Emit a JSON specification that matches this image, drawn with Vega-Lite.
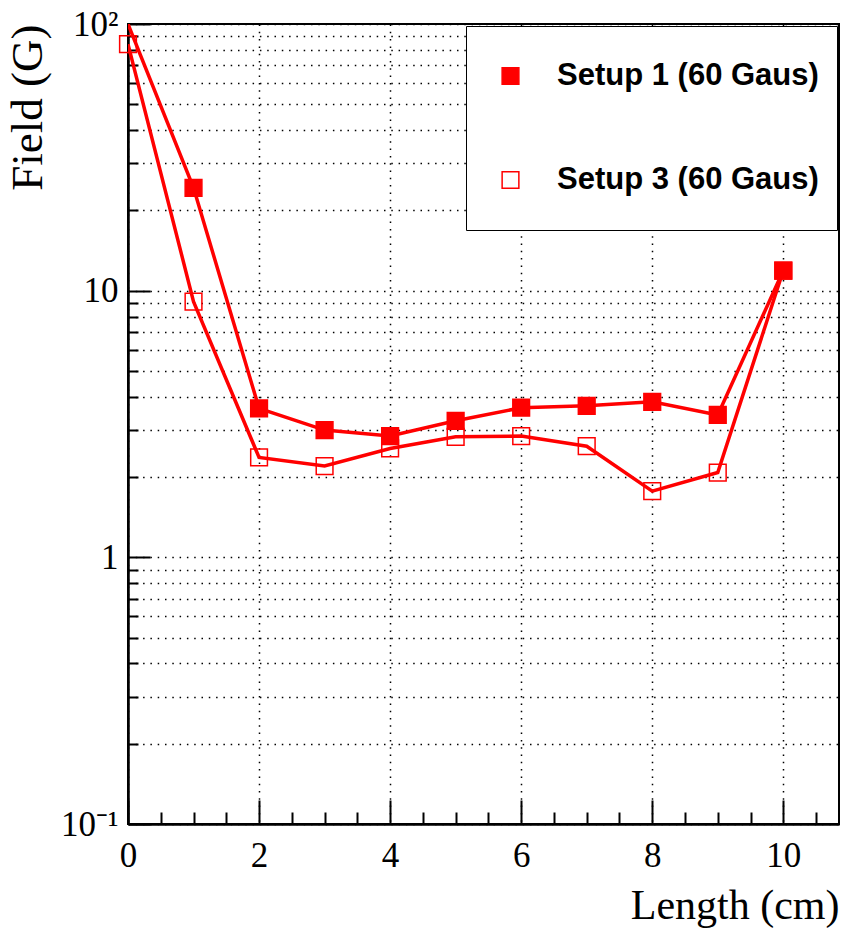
{
  "$schema": "https://vega.github.io/schema/vega-lite/v6.json",
  "width": 711,
  "height": 800,
  "autosize": {"type": "none"},
  "padding": {"left": 128, "top": 24, "right": 12, "bottom": 115},
  "background": "white",
  "config": {
    "view": {"stroke": "#000", "strokeWidth": 2},
    "axis": {
      "domainColor": "#000", "domainWidth": 2,
      "tickColor": "#000", "tickWidth": 2,
      "gridColor": "#000", "gridWidth": 1.5, "gridDash": [1.5, 5.8], "gridOpacity": 1,
      "labelFont": "Liberation Serif", "titleFont": "Liberation Serif",
      "labelColor": "#000", "titleColor": "#000",
      "labelFontSize": 35, "titleFontSize": 42, "titleFontWeight": "normal"
    },
    "legend": {
      "strokeColor": "#000", "fillColor": "white", "padding": 18,
      "symbolOffset": 11, "labelOffset": 31, "rowPadding": 40, "clipHeight": 64,
      "labelFont": "Liberation Sans", "labelFontWeight": "bold", "labelFontSize": 31, "labelColor": "#000",
      "symbolType": "square", "symbolSize": 280, "symbolStrokeWidth": 1.5, "symbolStrokeColor": "#ff0000",
      "labelLimit": 400
    }
  },
  "data": {"values": [
    {"setup": "Setup 1 (60 Gaus)", "length": 0, "field": 100},
    {"setup": "Setup 1 (60 Gaus)", "length": 1, "field": 24.3},
    {"setup": "Setup 1 (60 Gaus)", "length": 2, "field": 3.62},
    {"setup": "Setup 1 (60 Gaus)", "length": 3, "field": 3.0},
    {"setup": "Setup 1 (60 Gaus)", "length": 4, "field": 2.85},
    {"setup": "Setup 1 (60 Gaus)", "length": 5, "field": 3.25},
    {"setup": "Setup 1 (60 Gaus)", "length": 6, "field": 3.64},
    {"setup": "Setup 1 (60 Gaus)", "length": 7, "field": 3.7},
    {"setup": "Setup 1 (60 Gaus)", "length": 8, "field": 3.83},
    {"setup": "Setup 1 (60 Gaus)", "length": 9, "field": 3.42},
    {"setup": "Setup 1 (60 Gaus)", "length": 10, "field": 11.9},
    {"setup": "Setup 3 (60 Gaus)", "length": 0, "field": 84},
    {"setup": "Setup 3 (60 Gaus)", "length": 1, "field": 9.1},
    {"setup": "Setup 3 (60 Gaus)", "length": 2, "field": 2.37},
    {"setup": "Setup 3 (60 Gaus)", "length": 3, "field": 2.2},
    {"setup": "Setup 3 (60 Gaus)", "length": 4, "field": 2.56},
    {"setup": "Setup 3 (60 Gaus)", "length": 5, "field": 2.83},
    {"setup": "Setup 3 (60 Gaus)", "length": 6, "field": 2.85},
    {"setup": "Setup 3 (60 Gaus)", "length": 7, "field": 2.61},
    {"setup": "Setup 3 (60 Gaus)", "length": 8, "field": 1.77},
    {"setup": "Setup 3 (60 Gaus)", "length": 9, "field": 2.08},
    {"setup": "Setup 3 (60 Gaus)", "length": 10, "field": 11.9}
  ]},
  "layer": [
    {
      "mark": {"type": "line", "color": "#ff0000", "strokeWidth": 3.5, "clip": true},
      "encoding": {
        "x": {"field": "length", "type": "quantitative",
          "scale": {"domain": [0, 10.85], "nice": false, "zero": false},
          "axis": {"orient": "bottom", "values": [0, 2, 4, 6, 8, 10], "tickSize": -24, "labelPadding": 38,
            "grid": true, "title": "Length (cm)", "titleAnchor": "end", "titlePadding": 12, "labelFlush": false}},
        "y": {"field": "field", "type": "quantitative",
          "scale": {"type": "log", "domain": [0.1, 100], "nice": false},
          "axis": {"orient": "left", "values": [0.1, 1, 10, 100], "tickSize": -22, "labelPadding": 32,
            "grid": true, "title": "Field (G)", "titleAnchor": "end", "titlePadding": 10, "titleFontSize": 45,
            "labelExpr": "datum.value >= 99 ? '10²' : datum.value < 0.5 ? '10⁻¹' : datum.value >= 9 ? '10' : '1'"}},
        "detail": {"field": "setup"}
      }
    },
    {
      "transform": [{"filter": "datum.field < 100"}],
      "mark": {"type": "point", "shape": "square", "size": 280, "stroke": "#ff0000", "strokeWidth": 1.5, "opacity": 1},
      "encoding": {
        "x": {"field": "length", "type": "quantitative",
          "scale": {"domain": [0, 10.85], "nice": false, "zero": false},
          "axis": {"orient": "bottom", "values": [0.5, 1, 1.5, 2.5, 3, 3.5, 4.5, 5, 5.5, 6.5, 7, 7.5, 8.5, 9, 9.5, 10.5],
            "tickSize": -12, "labels": false, "grid": false, "title": null}},
        "y": {"field": "field", "type": "quantitative",
          "scale": {"type": "log", "domain": [0.1, 100], "nice": false},
          "axis": {"orient": "left", "values": [0.2, 0.3, 0.4, 0.5, 0.6, 0.7, 0.8, 0.9, 2, 3, 4, 5, 6, 7, 8, 9, 20, 30, 40, 50, 60, 70, 80, 90],
            "tickSize": -10, "labels": false, "grid": true, "title": null}},
        "fill": {"field": "setup", "type": "nominal",
          "scale": {"domain": ["Setup 1 (60 Gaus)", "Setup 3 (60 Gaus)"], "range": ["#ff0000", "transparent"]},
          "legend": {"title": null, "orient": "top-right", "offset": 2}}
      }
    }
  ],
  "resolve": {"axis": {"x": "independent", "y": "independent"}}
}
